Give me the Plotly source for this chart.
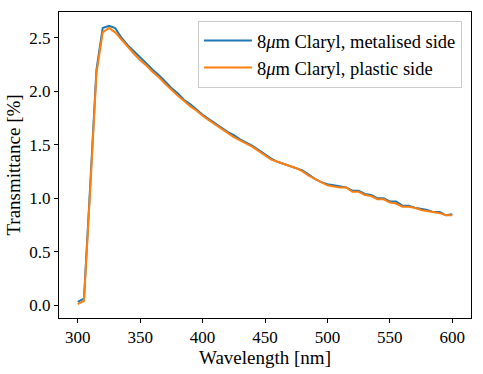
import plotly.graph_objects as go

wavelength = list(range(300, 605, 5))

metalised = [0.03, 0.06, 1.12, 2.20, 2.59, 2.61, 2.59, 2.50, 2.43, 2.37,
             2.31, 2.26, 2.20, 2.15, 2.09, 2.03, 1.98, 1.92, 1.88, 1.83,
             1.78, 1.74, 1.70, 1.66, 1.62, 1.59, 1.55, 1.52, 1.49, 1.45,
             1.41, 1.37, 1.34, 1.32, 1.30, 1.28, 1.26, 1.22, 1.18, 1.15,
             1.13, 1.12, 1.11, 1.10, 1.07, 1.07, 1.04, 1.03, 1.00, 1.00,
             0.97, 0.97, 0.93, 0.93, 0.91, 0.90, 0.89, 0.87, 0.87, 0.84,
             0.85]

plastic = [0.01, 0.04, 1.08, 2.17, 2.55, 2.59, 2.55, 2.48, 2.41, 2.35,
           2.29, 2.24, 2.18, 2.13, 2.07, 2.01, 1.96, 1.91, 1.86, 1.82,
           1.77, 1.73, 1.69, 1.65, 1.61, 1.57, 1.54, 1.51, 1.48, 1.44,
           1.40, 1.36, 1.34, 1.32, 1.30, 1.28, 1.25, 1.21, 1.18, 1.15,
           1.12, 1.11, 1.10, 1.10, 1.06, 1.06, 1.03, 1.02, 0.99, 0.99,
           0.96, 0.95, 0.92, 0.92, 0.91, 0.89, 0.88, 0.87, 0.86, 0.84,
           0.84]

labels = ["8<i>μ</i>m Claryl, metalised side", "8<i>μ</i>m Claryl, plastic side"]
colors = ["#1f77b4", "#ff7f0e"]

fig = go.Figure()
for y, name, c in zip([metalised, plastic], labels, colors):
    fig.add_trace(go.Scatter(x=wavelength, y=y, mode="lines", name=name,
                             line=dict(color=c, width=2)))

font_family = "Liberation Serif, serif"
axis_common = dict(showline=True, linecolor="black", linewidth=1, mirror=True,
                   ticks="outside", ticklen=4, tickcolor="black", showgrid=False,
                   zeroline=False, automargin=False,
                   tickfont=dict(family=font_family, size=17, color="black"))
title_font = dict(family=font_family, size=19, color="black")

fig.update_layout(
    width=483, height=374,
    margin=dict(l=59, r=12, t=12, b=56),
    plot_bgcolor="white", paper_bgcolor="white",
    font=dict(family=font_family, size=18, color="black"),
    xaxis=dict(range=[285, 615], tickvals=[300, 350, 400, 450, 500, 550, 600],
               title=dict(text="Wavelength [nm]", standoff=2, font=title_font),
               **axis_common),
    yaxis=dict(range=[-0.12, 2.74], tickvals=[0, 0.5, 1.0, 1.5, 2.0, 2.5],
               tickformat=".1f",
               title=dict(text="Transmittance [%]", standoff=3, font=title_font),
               **axis_common),
    legend=dict(x=0.978, y=0.971, xanchor="right", yanchor="top",
                bgcolor="rgba(255,255,255,0.8)", bordercolor="#cccccc", borderwidth=1,
                font=dict(family=font_family, size=18.5, color="black"),
                tracegroupgap=0, itemwidth=48),
    showlegend=True,
)

fig.write_html("out.html", config={"displayModeBar": False},
               post_script="document.body.style.margin='0';")
